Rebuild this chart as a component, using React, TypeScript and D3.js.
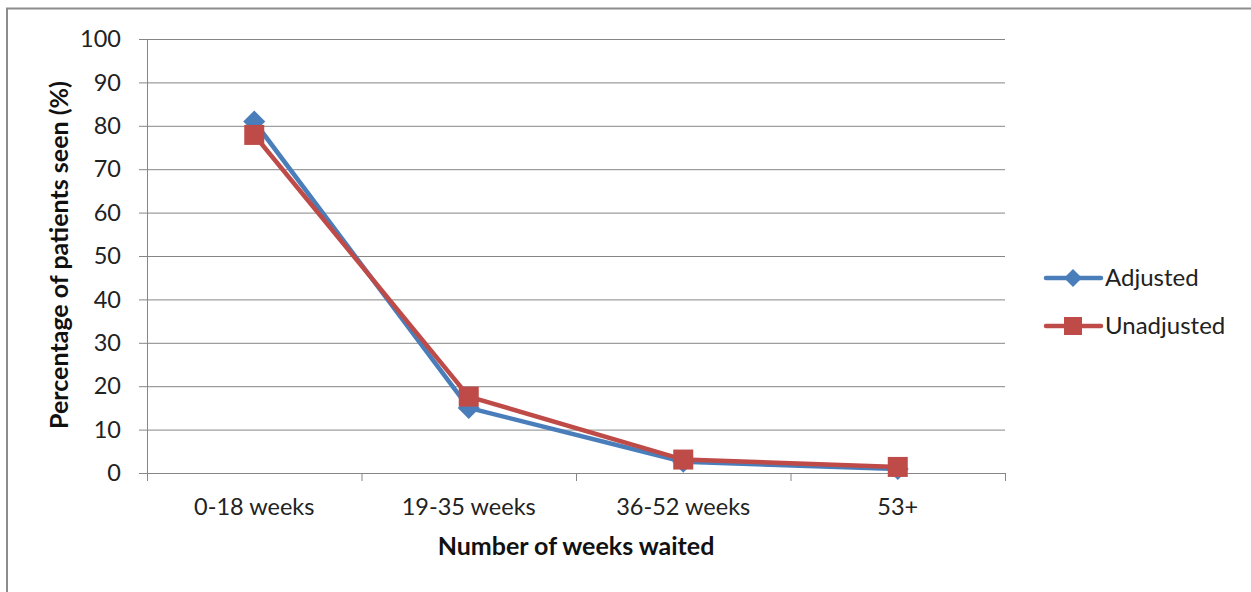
import * as d3 from "d3";
import React, { useEffect, useRef } from "react";

const categories = ["0-18 weeks", "19-35 weeks", "36-52 weeks", "53+"];
const adjusted = [81, 15, 2.6, 0.9];
const unadjusted = [77.9, 17.6, 3.1, 1.4];
const yTicks = [0, 10, 20, 30, 40, 50, 60, 70, 80, 90, 100];

const FONT = "Lato, 'Open Sans', sans-serif";
const BLUE = "#4a7ebb";
const RED = "#be4b48";
const GRID = "#868686";

const App: React.FC = () => {
  const ref = useRef<SVGSVGElement>(null);

  useEffect(() => {
    if (!ref.current) return;
    const svg = d3.select(ref.current);
    svg.selectAll("*").remove();

    const width = 1251,
      height = 592;
    const left = 147,
      right = 1005,
      top = 39,
      bottom = 473;

    // outer frame
    svg
      .append("rect")
      .attr("x", 7)
      .attr("y", 8.5)
      .attr("width", width + 10)
      .attr("height", height + 10)
      .attr("fill", "#fff")
      .attr("stroke", "#8c8c8c")
      .attr("stroke-width", 2);

    const x = d3.scaleBand().domain(categories).range([left, right]);
    const y = d3.scaleLinear().domain([0, 100]).range([bottom, top]);

    // gridlines
    svg
      .append("g")
      .selectAll("line")
      .data(yTicks)
      .join("line")
      .attr("x1", left - 8)
      .attr("x2", right)
      .attr("y1", (d) => y(d) + 0.5)
      .attr("y2", (d) => y(d) + 0.5)
      .attr("stroke", GRID)
      .attr("stroke-width", 1);

    // y axis line
    svg
      .append("line")
      .attr("x1", left + 0.5)
      .attr("x2", left + 0.5)
      .attr("y1", top)
      .attr("y2", bottom)
      .attr("stroke", GRID);

    // category ticks
    const tickXs = categories.map((c) => x(c)!).concat([right]);
    svg
      .append("g")
      .selectAll("line")
      .data(tickXs)
      .join("line")
      .attr("x1", (d) => d + 0.5)
      .attr("x2", (d) => d + 0.5)
      .attr("y1", bottom)
      .attr("y2", bottom + 8)
      .attr("stroke", GRID);

    // y tick labels
    svg
      .append("g")
      .selectAll("text")
      .data(yTicks)
      .join("text")
      .attr("x", left - 26)
      .attr("y", (d) => y(d))
      .attr("dy", "0.35em")
      .attr("text-anchor", "end")
      .style("font-family", FONT)
      .style("font-size", "23.5px")
      .style("fill", "#222")
      .text((d) => d);

    // x tick labels
    svg
      .append("g")
      .selectAll("text")
      .data(categories)
      .join("text")
      .attr("x", (d) => x(d)! + x.bandwidth() / 2)
      .attr("y", 515)
      .attr("text-anchor", "middle")
      .style("font-family", FONT)
      .style("font-size", "23.5px")
      .style("fill", "#222")
      .text((d) => d);

    // axis titles
    svg
      .append("text")
      .attr("x", 576)
      .attr("y", 555)
      .attr("text-anchor", "middle")
      .style("font-family", FONT)
      .style("font-size", "25px")
      .style("font-weight", "bold")
      .style("fill", "#111")
      .text("Number of weeks waited");

    svg
      .append("text")
      .attr("transform", `translate(68,255) rotate(-90)`)
      .attr("text-anchor", "middle")
      .style("font-family", FONT)
      .style("font-size", "25px")
      .style("font-weight", "bold")
      .style("fill", "#111")
      .text("Percentage of patients seen (%)");

    const cx = (i: number) => x(categories[i])! + x.bandwidth() / 2;
    const line = d3
      .line<number>()
      .x((_, i) => cx(i))
      .y((d) => y(d));

    const diamond = (s: number) => `M0,${-s}L${s},0L0,${s}L${-s},0Z`;

    // Adjusted series
    svg
      .append("path")
      .datum(adjusted)
      .attr("d", line)
      .attr("fill", "none")
      .attr("stroke", BLUE)
      .attr("stroke-width", 4.5)
      .attr("stroke-linejoin", "round");
    svg
      .append("g")
      .selectAll("path")
      .data(adjusted)
      .join("path")
      .attr("transform", (d, i) => `translate(${cx(i)},${y(d)})`)
      .attr("d", diamond(11))
      .attr("fill", BLUE);

    // Unadjusted series
    svg
      .append("path")
      .datum(unadjusted)
      .attr("d", line)
      .attr("fill", "none")
      .attr("stroke", RED)
      .attr("stroke-width", 4.5)
      .attr("stroke-linejoin", "round");
    svg
      .append("g")
      .selectAll("rect")
      .data(unadjusted)
      .join("rect")
      .attr("x", (_, i) => cx(i) - 10)
      .attr("y", (d) => y(d) - 10)
      .attr("width", 20)
      .attr("height", 20)
      .attr("fill", RED);

    // legend
    const legend = [
      { name: "Adjusted", color: BLUE, marker: "diamond" },
      { name: "Unadjusted", color: RED, marker: "square" },
    ];
    const lg = svg
      .append("g")
      .selectAll("g")
      .data(legend)
      .join("g")
      .attr("transform", (_, i) => `translate(1046,${278 + i * 48})`);
    lg.append("line")
      .attr("x1", 0)
      .attr("x2", 55)
      .attr("stroke", (d) => d.color)
      .attr("stroke-width", 4.5)
      .attr("stroke-linecap", "round");
    lg.append("path")
      .attr("d", (d) =>
        d.marker === "diamond" ? `M27,-9L36,0L27,9L18,0Z` : `M18,-9H36V9H18Z`
      )
      .attr("fill", (d) => d.color);
    lg.append("text")
      .attr("x", 59)
      .attr("dy", "0.35em")
      .style("font-family", FONT)
      .style("font-size", "24px")
      .style("fill", "#222")
      .text((d) => d.name);
  }, []);

  return (
    <svg
      ref={ref}
      width={1251}
      height={592}
      style={{ position: "absolute", left: 0, top: 0, background: "#fff" }}
    />
  );
};

export default App;
